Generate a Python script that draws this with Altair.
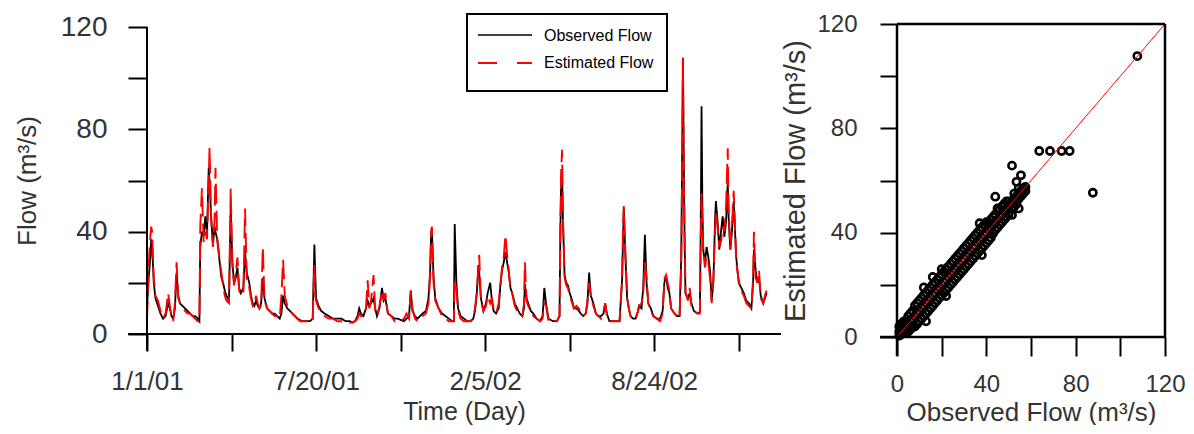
import altair as alt
import pandas as pd

# ---------------- time series (day index from 1/1/01) ----------------
days = [
    0, 2, 4, 5, 6, 8, 10, 13, 16, 19,
    22, 25, 27, 29, 31, 33, 35, 37, 39, 42,
    45, 48, 51, 54, 57, 60, 62, 63, 65, 67,
    69, 71, 73, 74, 76, 78, 80, 81, 83, 86,
    88, 90, 92, 94, 97, 99, 101, 103, 105, 107,
    109, 111, 114, 116, 118, 121, 123, 125, 127, 129,
    131, 133, 135, 137, 139, 142, 145, 148, 151, 154,
    157, 159, 161, 163, 166, 169, 172, 175, 178, 181,
    184, 187, 190, 193, 196, 197, 198, 199, 200, 203,
    206, 210, 215, 220, 225, 230, 235, 240, 243, 246,
    249, 251, 253, 256, 259, 261, 263, 265, 268, 270,
    272, 275, 278, 280, 282, 285, 289, 293, 297, 300,
    304, 307, 310, 312, 314, 317, 320, 323, 326, 330,
    333, 335, 336, 337, 339, 341, 345, 349, 353, 357,
    361, 363, 364, 366, 368, 371, 375, 379, 383, 386,
    388, 390, 392, 393, 395, 398, 401, 403, 406, 408,
    410, 413, 416, 418, 420, 422, 424, 426, 428, 430,
    432, 435, 438, 441, 444, 446, 447, 449, 451, 454,
    457, 461, 465, 468, 470, 472, 475, 480, 485, 488,
    489, 490, 491, 492, 494, 496, 498, 500, 503, 505,
    508, 511, 513, 516, 519, 521, 523, 525, 528, 531,
    534, 537, 540, 542, 544, 547, 551, 555, 559, 562,
    563, 564, 566, 568, 570, 572, 575, 578, 581, 582,
    585, 587, 589, 591, 593, 596, 599, 603, 607, 610,
    612, 614, 616, 618, 620, 624, 627, 630, 632, 633,
    634, 635, 636, 637, 640, 642, 644, 647, 651, 654,
    655, 656, 657, 658, 660, 662, 664, 666, 668, 670,
    672, 673, 675, 677, 679, 681, 683, 685, 687, 688,
    690, 692, 694, 695, 697, 700, 703, 706, 709, 712,
    715, 717, 718, 720, 722, 724, 726, 729, 731, 733,
]
obs_flow = [
    10, 22, 30, 37, 35, 20, 14, 11, 8, 6,
    7, 12, 10, 7, 6, 10, 24, 15, 12, 11,
    10, 9, 8, 7, 7, 6, 5, 34, 40, 38,
    46, 39, 65, 60, 45, 35, 42, 40, 37, 28,
    22, 20, 17, 15, 13, 49, 28, 20, 22, 26,
    18, 16, 18, 32, 24, 20, 15, 12, 11, 13,
    11, 10, 12, 22, 14, 10, 9, 8, 8, 7,
    6, 8, 15, 12, 10, 9, 8, 7, 6, 5.5,
    5, 5, 5, 5, 6, 20, 35, 24, 14, 11,
    9, 8, 7, 6, 6, 6, 5, 5, 4.5, 5,
    7, 10, 8, 7, 10, 13, 11, 12, 14, 10,
    7, 10, 18, 13, 14, 8, 7, 6, 6, 5.5,
    5, 6, 7, 17, 9, 7, 6, 7, 8, 9,
    14, 25, 38, 41, 22, 14, 10, 8, 7, 6,
    5, 5, 43, 20, 10, 7, 6, 5, 5, 6,
    9, 15, 27, 24, 14, 9, 12, 16, 20, 13,
    9, 8, 10, 19, 25, 28, 32, 28, 24, 18,
    16, 12, 10, 8, 7, 10, 19.5, 14, 12, 9,
    8, 6, 5, 7, 18, 12, 6, 5, 5, 7,
    40, 61, 64.5, 45, 23, 20, 19, 16, 13, 10,
    10, 9, 8, 7, 8, 12, 24, 15, 12, 8,
    7, 7, 8, 12, 8, 5, 5, 5, 5, 21,
    35, 49, 30, 14, 10, 7, 6, 6, 9, 11,
    10, 18, 38.8, 20, 12, 10, 7, 6, 6, 9,
    20, 23, 18, 16, 10, 8, 7, 7, 30, 67,
    108, 67, 36, 16, 14, 16, 12, 9, 8, 8.5,
    40, 89, 50, 33, 28, 34, 30, 25, 13, 20,
    45, 52, 44, 33, 40, 46, 38, 44, 59, 46,
    33, 40, 52, 45, 30, 20, 18, 16, 13, 12,
    10, 20, 33, 25, 20, 22, 15, 12, 14, 16,
]
est_flow = [
    5, 27, 38, 42, 40, 22, 15, 13, 9, 6,
    8, 16, 11, 7, 5, 12, 28, 14, 12, 11,
    9, 8, 8, 7, 6, 5, 5, 42, 57, 36,
    40, 37, 60, 73, 44, 34, 45, 65, 38, 29,
    24, 19, 15, 13, 12, 57, 26, 19, 24, 30,
    17, 15, 16, 49, 22, 18, 14, 11, 12, 15,
    12, 10, 11, 34, 13, 10, 9, 8, 7, 7,
    6, 15, 29, 15, 11, 9, 8, 7, 6, 5,
    5, 5, 5, 5, 5, 18, 27, 15, 13, 10,
    9, 7, 6, 6, 5, 5, 5, 4.5, 4.5, 5,
    6, 8, 7, 7, 10, 21, 10, 13, 23, 9,
    7, 11, 17, 13, 16, 8, 7, 5, 5, 5,
    6, 8, 6, 17, 10, 6, 5, 6, 7, 8,
    12, 23, 40, 42, 20, 13, 10, 7, 6, 5,
    5, 5, 21, 18, 9, 6, 5, 5, 5, 7,
    10, 16, 25, 31, 13, 9, 11, 15, 12, 14,
    10, 8, 12, 19, 26, 30, 38.7, 31, 25, 17,
    16, 11, 9, 8, 7, 12, 28, 13, 11, 9,
    7, 6, 5, 6, 12, 11, 5, 5, 5, 7,
    42, 64, 72, 46, 22, 19, 18, 15, 12, 10,
    11, 10, 8, 7, 8, 13, 20, 15, 11, 8,
    7, 6, 9, 12, 7, 5, 5, 5, 5, 21.5,
    40, 50, 30, 14, 10, 7, 6, 6, 9, 11,
    12, 16, 28, 22, 12, 9, 7, 6, 5, 8,
    21.5, 23, 20, 17, 10, 8, 7, 6, 28, 60,
    108, 62, 36, 16, 13, 18, 11, 9, 8, 8,
    35, 55, 42, 34, 26, 30, 28, 22, 12, 22,
    40, 48, 42, 34, 36, 42, 40, 50, 72.6, 50,
    33, 42, 56, 48, 28, 21, 17, 15, 12, 11,
    10, 22, 40, 22, 20, 25, 14, 12, 15, 17,
]

# ---------------- scatter (observed vs estimated) ----------------
scat_obs = [
    1, 1, 1, 2, 2, 2, 3, 3, 3, 3, 4, 4, 4, 5, 5, 5,
    6, 6, 6, 7, 7, 7, 8, 8, 8, 9, 9, 9, 10, 10, 10,
    11, 11, 11, 12, 12, 12, 12, 13, 13, 13, 13, 14, 14, 14, 15, 15, 15,
    16, 16, 16, 16, 17, 17, 17, 18, 18, 18, 19, 19, 19, 20, 20, 20, 20,
    21, 21, 21, 22, 22, 22, 22, 23, 23, 23, 24, 24, 24, 25, 25, 25,
    26, 26, 26, 27, 27, 27, 28, 28, 28, 29, 29, 29, 30, 30, 30,
    31, 31, 31, 32, 32, 32, 33, 33, 33, 34, 34, 34, 35, 35, 35,
    36, 36, 36, 37, 37, 37, 37, 38, 38, 38, 38, 39, 39, 39, 40, 40, 40,
    41, 41, 41, 42, 42, 42, 43, 43, 43, 44, 44, 44, 44, 45, 45, 45,
    46, 46, 46, 47, 47, 47, 48, 48, 48, 49, 49, 49, 50, 50, 50,
    51.5, 51.5, 51.5, 51.5, 52.5, 52.5, 52.5, 53.5, 53.5, 53.5,
    54.5, 54.5, 54.5, 54.5, 55.5, 55.5, 55.5, 56.5, 56.5, 57.5, 57.5,
    63.7, 68.5, 73.7, 77.3, 87.7, 107.6,
]
scat_est = [
    0.5, 2, 4, 1, 3, 5, 1.5, 3, 5, 6, 2, 4, 6, 2, 5, 8,
    3, 6, 9, 4, 7, 10, 4, 8, 12, 5, 9, 13, 6, 10, 14,
    7, 11, 15, 8, 12, 16, 19, 6, 9, 13, 17, 10, 14, 18, 11, 15, 19,
    12, 16, 20, 23, 13, 17, 21, 14, 18, 22, 15, 19, 23, 16, 20, 24, 26,
    17, 21, 25, 15.7, 18, 22, 26, 19, 23, 27, 20, 24, 28, 21, 25, 29,
    22, 26, 30, 23, 27, 31, 24, 28, 32, 25, 29, 33, 26, 30, 34,
    27, 31, 35, 28, 32, 36, 29, 33, 37, 30, 34, 38, 31, 35, 39,
    32, 36, 40, 33, 37, 41, 43.6, 31.4, 34, 38, 42, 35, 39, 43, 36, 40, 44,
    37, 41, 44, 38, 42, 45, 39.7, 43, 46, 41, 44, 47, 53.8, 42, 45, 49.3,
    43, 46, 49, 44, 47, 50, 45, 48, 51, 46, 49, 52, 47, 50, 52,
    46.8, 49, 52, 65.7, 50, 53, 55, 51, 54, 59.5,
    49.3, 53, 55, 57, 54, 56, 62, 55, 57, 56, 57.5,
    71.3, 71.3, 71.3, 71.3, 55.3, 107.7,
]
diag_vals = [0, 120]

# ---------------- ticks / labels ----------------
x_ticks = [0, 100, 200, 300, 400, 500, 600, 700]
x_tick_labels = {0: "1/1/01", 200: "7/20/01", 400: "2/5/02", 600: "8/24/02"}
flow_ticks = [0, 20, 40, 60, 80, 100, 120]
legend_names = ["Observed Flow", "Estimated Flow"]

FONT = "Liberation Sans"
TXT = "#333333"

ts = pd.DataFrame({"day": days, "obs": obs_flow, "est": est_flow})
sc = pd.DataFrame({"o": scat_obs, "e": scat_est})
dg = pd.DataFrame({"v": diag_vals})
one = pd.DataFrame({"k": [0]})

W1, H1 = 634, 307
W2, H2 = 268, 313
NOVIEW = alt.ViewBackground(stroke="transparent", strokeWidth=0, strokeOpacity=0)

x_expr = " : ".join(
    f"datum.value == {k} ? '{v}'" for k, v in x_tick_labels.items()
) + " : ''"
y_expr = "datum.value % 40 == 0 ? datum.label : ''"

x_axis = alt.Axis(
    values=x_ticks, labelExpr=x_expr, title="Time (Day)", domain=False, grid=False,
    tickSize=17, tickWidth=2, tickColor="black", labelFont=FONT, labelFontSize=26,
    labelColor=TXT, labelPadding=17, labelFlush=False, labelOverlap=False,
    titleFont=FONT, titleFontSize=25, titleFontWeight="normal", titleColor=TXT,
    titlePadding=5,
)
y_axis = alt.Axis(
    values=flow_ticks, labelExpr=y_expr, title="Flow (m³/s)", domain=False, grid=False,
    tickSize=19, tickWidth=2, tickColor="black", labelFont=FONT, labelFontSize=28,
    labelColor=TXT, labelPadding=21, labelFlush=False, labelOverlap=False,
    titleFont=FONT, titleFontSize=26, titleFontWeight="normal", titleColor=TXT,
    titlePadding=20,
)
xs = alt.Scale(domain=[0, 750], nice=False, zero=False)
ys = alt.Scale(domain=[0, 120], nice=False)

line_obs = alt.Chart(ts).mark_line(color="black", strokeWidth=1.8).encode(
    x=alt.X("day:Q", scale=xs, axis=x_axis),
    y=alt.Y("obs:Q", scale=ys, axis=y_axis),
)
line_est = alt.Chart(ts).mark_line(color="#ff0000", strokeWidth=1.9, strokeDash=[20, 7]).encode(
    x=alt.X("day:Q", scale=xs, axis=x_axis),
    y=alt.Y("est:Q", scale=ys, axis=y_axis),
)
base1 = alt.Chart(one)
axes1 = [
    base1.mark_rule(color="black", strokeWidth=2).encode(
        x=alt.value(-19), x2=alt.value(W1), y=alt.value(H1)),
    base1.mark_rule(color="black", strokeWidth=2).encode(
        x=alt.value(0), y=alt.value(0), y2=alt.value(H1 + 17)),
]
leg_box = base1.mark_rect(fill="white", stroke="black", strokeWidth=2).encode(
    x=alt.value(320), x2=alt.value(520), y=alt.value(-13), y2=alt.value(64))
leg_l1 = base1.mark_rule(color="black", strokeWidth=1.6).encode(
    x=alt.value(331), x2=alt.value(385), y=alt.value(8))
leg_l2 = base1.mark_rule(color="#ff0000", strokeWidth=1.8, strokeDash=[19, 20]).encode(
    x=alt.value(331), x2=alt.value(385), y=alt.value(36))
leg_t1 = base1.mark_text(align="left", baseline="middle", font=FONT, fontSize=16,
                         color="black", text=legend_names[0]).encode(
    x=alt.value(397), y=alt.value(9))
leg_t2 = base1.mark_text(align="left", baseline="middle", font=FONT, fontSize=16,
                         color="black", text=legend_names[1]).encode(
    x=alt.value(397), y=alt.value(36))

left = alt.layer(line_obs, line_est, *axes1, leg_box, leg_l1, leg_l2, leg_t1, leg_t2).properties(
    width=W1, height=H1, view=NOVIEW)

# ---------------- right scatter ----------------
sx_axis = alt.Axis(
    values=flow_ticks, labelExpr=y_expr, title="Observed Flow (m³/s)", domain=False,
    grid=False, tickSize=19, tickWidth=2, tickColor="black", labelFont=FONT,
    labelFontSize=24, labelColor=TXT, labelPadding=16, labelFlush=False,
    labelOverlap=False, titleFont=FONT, titleFontSize=26, titleFontWeight="normal",
    titleColor=TXT, titlePadding=3,
)
sy_axis = alt.Axis(
    values=flow_ticks, labelExpr=y_expr, title="Estimated Flow (m³/s)", domain=False,
    grid=False, tickSize=17, tickWidth=2, tickColor="black", labelFont=FONT,
    labelFontSize=24, labelColor=TXT, labelPadding=23, labelFlush=False,
    labelOverlap=False, titleFont=FONT, titleFontSize=29, titleFontWeight="normal",
    titleColor=TXT, titlePadding=6,
)
s_scale = alt.Scale(domain=[0, 120], nice=False, zero=False)
pts = alt.Chart(sc).mark_point(shape="circle", filled=False, color="black", size=52,
                               strokeWidth=2.6, opacity=1).encode(
    x=alt.X("o:Q", scale=s_scale, axis=sx_axis),
    y=alt.Y("e:Q", scale=s_scale, axis=sy_axis),
)
diag = alt.Chart(dg).mark_line(color="#ff0000", strokeWidth=1).encode(
    x=alt.X("v:Q", scale=s_scale, axis=sx_axis),
    y=alt.Y("v:Q", scale=s_scale, axis=sy_axis),
)
base2 = alt.Chart(one)
frame2 = [
    base2.mark_rule(color="black", strokeWidth=2.5).encode(
        x=alt.value(-17), x2=alt.value(W2 + 1), y=alt.value(H2)),
    base2.mark_rule(color="black", strokeWidth=2.5).encode(
        x=alt.value(0), y=alt.value(0), y2=alt.value(H2 + 19)),
    base2.mark_rule(color="black", strokeWidth=2.5).encode(
        x=alt.value(0), x2=alt.value(W2), y=alt.value(0)),
    base2.mark_rule(color="black", strokeWidth=2.5).encode(
        x=alt.value(W2), y=alt.value(0), y2=alt.value(H2)),
]
right = alt.layer(pts, diag, *frame2).properties(width=W2, height=H2, view=NOVIEW)

chart = alt.hconcat(
    left, right, spacing=116, bounds="flush", center=True,
    padding={"left": 6, "top": 4, "right": 0, "bottom": 0},
).configure_view(stroke="transparent", strokeWidth=0).configure(background="white")

chart.save("out.html", embed_options={"renderer": "svg", "actions": False})
